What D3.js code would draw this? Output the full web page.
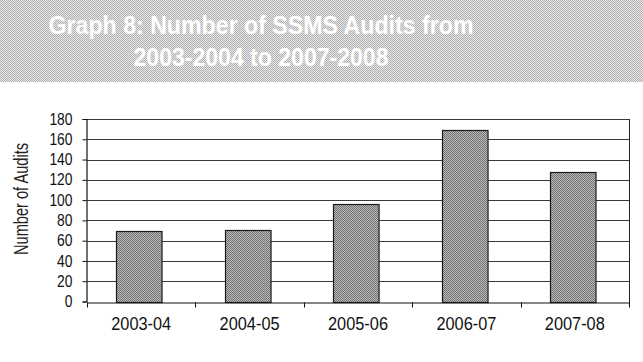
<!DOCTYPE html>
<html>
<head>
<meta charset="utf-8">
<script src="https://cdn.jsdelivr.net/npm/d3@7"></script>
<style>
  html, body { margin: 0; padding: 0; background: #ffffff; }
  svg { display: block; }
  text { font-family: "Liberation Sans Narrow", "Arial Narrow", "Liberation Sans", sans-serif; }
</style>
</head>
<body>
<svg id="chart" width="643" height="362"></svg>
<script>
// Audits per fiscal year
const years = ["2003-04", "2004-05", "2005-06", "2006-07", "2007-08"];
const audits = [70, 71, 96, 169, 128];
const yTicks = [0, 20, 40, 60, 80, 100, 120, 140, 160, 180];
const titleLines = ["Graph 8:  Number of SSMS Audits from", "2003-2004 to 2007-2008"];
const yTitle = "Number of Audits";

const W = 643, H = 362;
const plot = { left: 87, right: 629, top: 119, bottom: 301.5 };

const svg = d3.select("#chart");

// Squeeze text horizontally to a condensed look
function condense(sel, width) {
  sel.attr("textLength", width).attr("lengthAdjust", "spacingAndGlyphs");
}

// Halftone-style fills
const defs = svg.append("defs");
function checker(id, base, dot) {
  const p = defs.append("pattern")
    .attr("id", id).attr("patternUnits", "userSpaceOnUse")
    .attr("width", 2).attr("height", 2);
  p.append("rect").attr("width", 2).attr("height", 2).attr("fill", base);
  p.append("rect").attr("x", 0).attr("y", 0).attr("width", 1).attr("height", 1).attr("fill", dot);
  p.append("rect").attr("x", 1).attr("y", 1).attr("width", 1).attr("height", 1).attr("fill", dot);
}
checker("bannerFill", "#e8e8e8", "#b0b0b0");
checker("barFill", "#b8b8b8", "#747474");

// Title banner
svg.append("rect").attr("x", 0).attr("y", 0).attr("width", W).attr("height", 82)
  .attr("fill", "url(#bannerFill)");
const titleWidths = [425, 255];
svg.append("g").selectAll("text").data(titleLines).join("text")
  .attr("x", 261)
  .attr("y", (d, i) => 34 + i * 32)
  .attr("text-anchor", "middle")
  .attr("font-size", 26.5)
  .attr("font-weight", "bold")
  .attr("fill", "#ffffff")
  .attr("textLength", (d, i) => titleWidths[i])
  .attr("lengthAdjust", "spacingAndGlyphs")
  .text(d => d);

// Scales
const x = d3.scaleBand().domain(years)
  .range([plot.left, plot.right])
  .paddingInner(0.58).paddingOuter(0.29);
const y = d3.scaleLinear().domain([0, 180]).range([plot.bottom, plot.top]);

// Horizontal gridlines
svg.append("g").selectAll("line").data(yTicks.filter(v => v > 0)).join("line")
  .attr("x1", plot.left).attr("x2", plot.right)
  .attr("y1", d => Math.round(y(d)) + 0.5).attr("y2", d => Math.round(y(d)) + 0.5)
  .attr("stroke", "#3a3a3a").attr("stroke-width", 1);

// Right border of plot area
svg.append("line")
  .attr("x1", plot.right + 0.5).attr("x2", plot.right + 0.5)
  .attr("y1", y(180)).attr("y2", plot.bottom + 4)
  .attr("stroke", "#222");

// Bars
svg.append("g").selectAll("rect").data(audits).join("rect")
  .attr("x", (d, i) => Math.round(x(years[i])) - 1.5)
  .attr("y", d => Math.round(y(d)) + 0.5)
  .attr("width", x.bandwidth())
  .attr("height", d => Math.round(y(0)) - Math.round(y(d)))
  .attr("fill", "url(#barFill)")
  .attr("stroke", "#1a1a1a").attr("stroke-width", 1.2);

// Y axis
const yAxis = svg.append("g")
  .attr("transform", `translate(${plot.left - 0.5},0)`)
  .call(d3.axisLeft(y).tickValues(yTicks).tickSize(4).tickPadding(10));
yAxis.select(".domain").attr("stroke", "#111").attr("stroke-width", 1.2);
yAxis.selectAll(".tick line").attr("stroke", "#111");
yAxis.selectAll(".tick text")
  .attr("font-size", 16)
  .attr("fill", "#111").attr("font-family", null)
  .attr("textLength", d => String(d).length * 7.7)
  .attr("lengthAdjust", "spacingAndGlyphs");

// X axis: labels centred on bands, ticks on category boundaries
const xAxis = svg.append("g")
  .attr("transform", `translate(0,${Math.round(plot.bottom) + 0.5})`)
  .call(d3.axisBottom(x).tickSize(0).tickSizeOuter(0));
xAxis.select(".domain").attr("stroke", "#111").attr("stroke-width", 1.2);
xAxis.selectAll(".tick text")
  .attr("y", 27).attr("dy", 0)
  .attr("font-size", 17.5)
  .attr("fill", "#111").attr("font-family", null)
  .call(condense, 60);

const gap = x.step() * x.paddingInner() / 2;
const bounds = years.map(c => x(c) - gap).concat([x(years[years.length - 1]) + x.bandwidth() + gap]);
xAxis.append("g").selectAll("line").data(bounds).join("line")
  .attr("x1", d => Math.round(d) + 0.5).attr("x2", d => Math.round(d) + 0.5)
  .attr("y1", 0).attr("y2", 5)
  .attr("stroke", "#111");

// Y axis title
svg.append("text")
  .attr("transform", "translate(28,199) rotate(-90)")
  .attr("text-anchor", "middle")
  .attr("font-size", 20)
  .attr("fill", "#222")
  .call(condense, 112)
  .text(yTitle);
</script>
</body>
</html>
